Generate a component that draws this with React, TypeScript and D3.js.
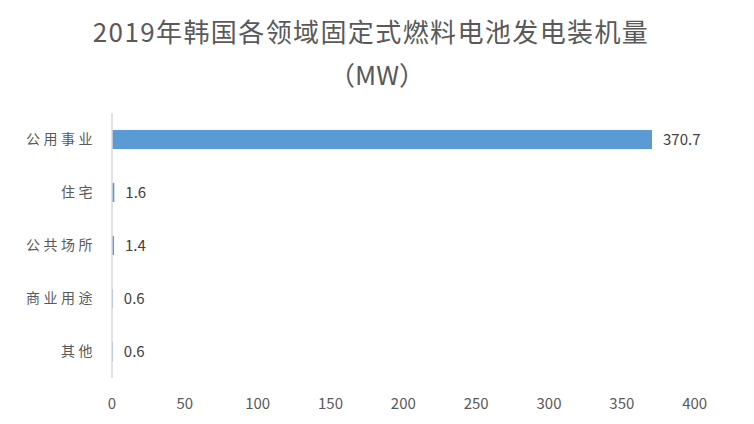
import React from "react";
import * as d3 from "d3";

const categories = ["公用事业", "住宅", "公共场所", "商业用途", "其他"];
const values = [370.7, 1.6, 1.4, 0.6, 0.6];
const valueLabels = ["370.7", "1.6", "1.4", "0.6", "0.6"];
const xTicks = [0, 50, 100, 150, 200, 250, 300, 350, 400];
const titleLine1 = "2019年韩国各领域固定式燃料电池发电装机量";
const titleLine2 = "（MW）";

const W = 754;
const H = 424;
const FONT = "'Noto Sans CJK SC', 'Noto Sans', sans-serif";

export default function App() {
  const left = 112;
  const right = 694.7;
  const top = 113;
  const bottom = 378;
  const x = d3.scaleLinear().domain([0, 400]).range([left, right]);
  const y = d3.scaleBand<string>().domain(categories).range([top, bottom]).paddingInner(0.64).paddingOuter(0.32);
  return (
    <svg width={W} height={H} style={{ position: "absolute", left: 0, top: 0, background: "#fff" }}>
      <text x={371} y={42} textAnchor="middle" fontFamily={FONT} fontSize={26} letterSpacing={1.4} fill="#595959">{titleLine1}</text>
      <text x={377} y={85} textAnchor="middle" fontFamily={FONT} fontSize={26} fill="#595959">{titleLine2}</text>
      {categories.map((c, i) => (
        <g key={c}>
          <rect x={x(0)} y={y(c)!} width={Math.max(0, x(values[i]) - x(0))} height={y.bandwidth()} fill="#5b9bd5" />
          <text x={96} y={y(c)! + y.bandwidth() / 2} dy="0.35em" textAnchor="end" fontFamily={FONT} fontSize={14} letterSpacing={3.5} fill="#595959">{c}</text>
          <text x={x(values[i]) + 11} y={y(c)! + y.bandwidth() / 2} dy="0.35em" fontFamily={FONT} fontSize={15} fill="#404040">{valueLabels[i]}</text>
        </g>
      ))}
      <line x1={x(0)} x2={x(0)} y1={top} y2={bottom} stroke="#d9d9d9" strokeWidth={1.5} />
      {xTicks.map((t) => (
        <text key={t} x={x(t)} y={404} dy="0.35em" textAnchor="middle" fontFamily={FONT} fontSize={15} fill="#595959">{t}</text>
      ))}
    </svg>
  );
}
